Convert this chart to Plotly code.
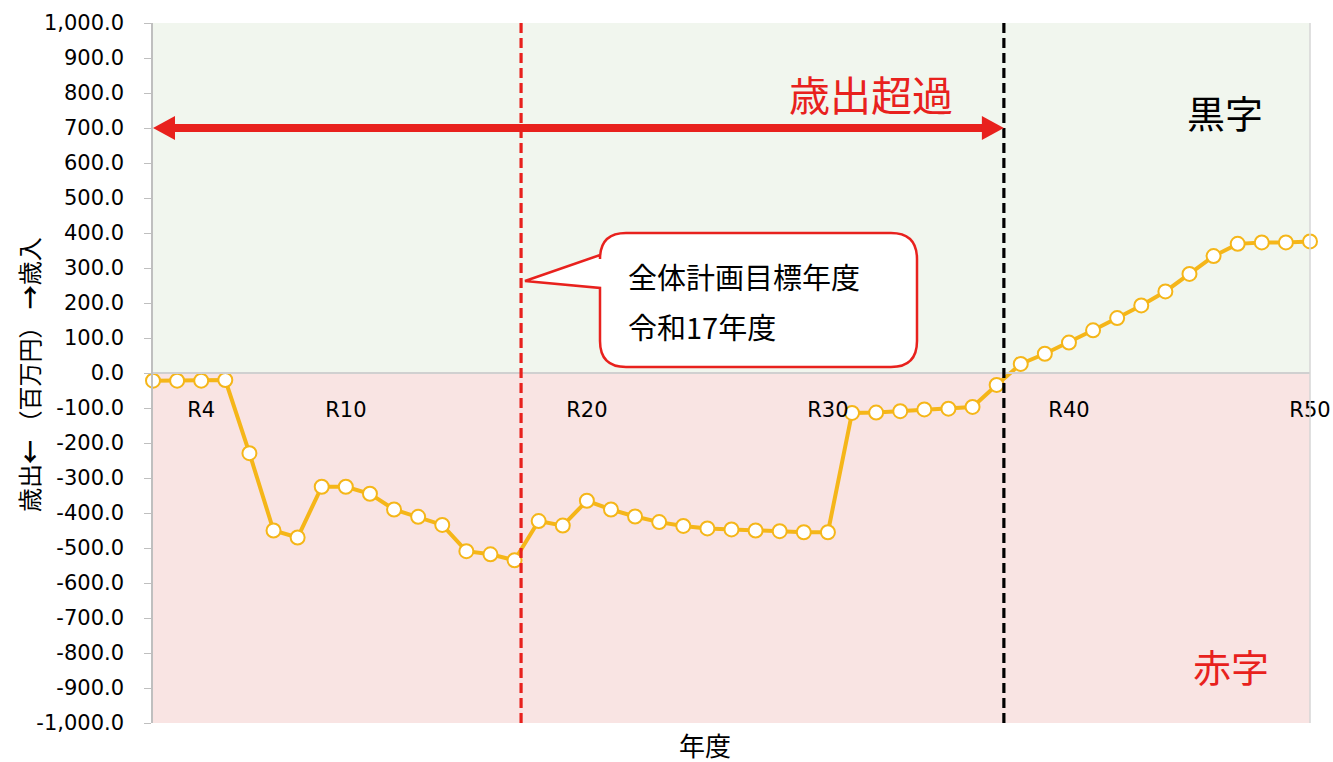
import plotly.graph_objects as go

# Fiscal years (Reiwa era) and annual balance in millions of yen
fiscal_year = list(range(2, 51))
balance = [
    -22, -22, -22, -20, -229, -450, -470, -325, -325, -345, -390, -411, -434, -509, -518, -535,
    -423, -436, -365, -390, -410, -426, -437, -444, -447, -450, -452, -455, -455,
    -114,
    -113, -109, -104, -102, -97, -34, 26, 55, 87, 122, 157, 193, 233, 283, 334, 369, 373, 373, 376,
]
tick_years = [4, 10, 20, 30, 40, 50]
tick_text = ["R4", "R10", "R20", "R30", "R40", "R50"]
y_ticks = list(range(-1000, 1001, 100))
y_tick_text = [f"{v:,.1f}" for v in y_ticks]

target_year = 17.27     # overall plan target year marker
breakeven_year = 37.3   # turn to surplus marker
arrow_level = 700

# Figure geometry
W, H = 1333, 762
ML, MR, MT, MB = 153, 23, 23, 39
PW, PH = W - ML - MR, H - MT - MB
X0, X1 = 2, 50
Y0, Y1 = -1000, 1000


def px_to_x(px):
    return X0 + (px - ML) / PW * (X1 - X0)


def py_to_y(py):
    return Y1 - (py - MT) / PH * (Y1 - Y0)


def dxp(px):
    return px / PW * (X1 - X0)


def dyp(py):
    return py / PH * (Y1 - Y0)


RED = "#E8211D"
GOLD = "#F5B619"
GRID = "#BFBFBF"
JP = "Noto Sans CJK JP"
NUM = "DejaVu Sans"

fig = go.Figure()

fig.add_trace(go.Scatter(
    x=fiscal_year, y=balance, mode="lines+markers",
    line=dict(color=GOLD, width=4),
    marker=dict(size=14, color="white", line=dict(color=GOLD, width=2)),
    cliponaxis=False, showlegend=False, hoverinfo="x+y",
))

shapes = []
# surplus / deficit backgrounds
shapes.append(dict(type="rect", xref="x", yref="y", x0=X0, x1=X1, y0=0, y1=Y1,
                   fillcolor="#F1F6EE", line=dict(width=0), layer="below"))
shapes.append(dict(type="rect", xref="x", yref="y", x0=X0, x1=X1, y0=Y0, y1=0,
                   fillcolor="#F9E4E3", line=dict(width=0), layer="below"))
# right border
shapes.append(dict(type="line", xref="paper", yref="paper", x0=1, x1=1, y0=0, y1=1,
                   line=dict(color="#D6D6D6", width=1.5)))

# vertical markers
shapes.append(dict(type="line", xref="x", yref="paper", x0=target_year, x1=target_year, y0=0, y1=1,
                   line=dict(color=RED, width=3.2, dash="10px,5px")))
shapes.append(dict(type="line", xref="x", yref="paper", x0=breakeven_year, x1=breakeven_year, y0=0, y1=1,
                   line=dict(color="black", width=3.2, dash="10px,5px")))

# double-headed arrow for the over-expenditure period
head_len, head_half = dxp(22), dyp(12)
shapes.append(dict(type="line", xref="x", yref="y", x0=X0 + head_len * 0.8, x1=breakeven_year - head_len * 0.8,
                   y0=arrow_level, y1=arrow_level, line=dict(color=RED, width=8)))
for tip, base in ((X0, X0 + head_len), (breakeven_year, breakeven_year - head_len)):
    shapes.append(dict(
        type="path", xref="x", yref="y",
        path=f"M {tip},{arrow_level} L {base},{arrow_level + head_half} L {base},{arrow_level - head_half} Z",
        fillcolor=RED, line=dict(width=0)))

# speech-bubble callout pointing at the target year line
bl, br, bt, bb = 600, 917, 233, 367
r = 26
tip_x, tip_y = 525, 281
p1, p2 = 255, 288
pts = [
    ("M", bl + r, bt), ("L", br - r, bt), ("Q", br, bt, br, bt + r), ("L", br, bb - r),
    ("Q", br, bb, br - r, bb), ("L", bl + r, bb), ("Q", bl, bb, bl, bb - r), ("L", bl, p2),
    ("L", tip_x, tip_y), ("L", bl, p1), ("L", bl, bt + r), ("Q", bl, bt, bl + r, bt),
]
segs = []
for seg in pts:
    cmd, coords = seg[0], seg[1:]
    c = []
    for i in range(0, len(coords), 2):
        c.append(f"{px_to_x(coords[i]):.4f},{py_to_y(coords[i + 1]):.4f}")
    segs.append(cmd + " " + " ".join(c))
shapes.append(dict(type="path", xref="x", yref="y", path=" ".join(segs) + " Z",
                   fillcolor="white", line=dict(color=RED, width=2.5)))


def pxp(px):
    return (px - ML) / PW


def pyp(py):
    return (MT + PH - py) / PH


annotations = [
    dict(text="歳出超過", x=pxp(871), y=pyp(93), font=dict(family=JP, size=41, color=RED)),
    dict(text="黒字", x=pxp(1225), y=pyp(112), font=dict(family=JP, size=38, color="black")),
    dict(text="赤字", x=pxp(1231), y=pyp(665), font=dict(family=JP, size=38, color=RED)),
    dict(text="年度", x=pxp(705), y=pyp(744), font=dict(family=JP, size=26, color="black")),
    dict(text="全体計画目標年度", x=pxp(626), y=pyp(276), xanchor="left",
         font=dict(family=JP, size=29, color="black")),
    dict(text="令和17年度", x=pxp(626), y=pyp(326), xanchor="left",
         font=dict(family=JP, size=29, color="black")),
    dict(text="歳出<b>←</b> （百万円） <b>→</b>歳入", x=pxp(28), y=pyp(375), textangle=-90,
         font=dict(family=JP, size=24, color="black")),
]
for a in annotations:
    a.setdefault("xanchor", "center")
    a.update(xref="paper", yref="paper", yanchor="middle", showarrow=False)

fig.update_layout(
    width=W, height=H,
    margin=dict(l=ML, r=MR, t=MT, b=MB, autoexpand=False),
    paper_bgcolor="white", plot_bgcolor="white",
    shapes=shapes, annotations=annotations,
    xaxis=dict(range=[X0, X1], anchor="free", position=0.5, showline=True, linecolor="#D0D0D0",
               linewidth=1.5, showgrid=False, zeroline=False, ticks="",
               tickvals=tick_years, ticktext=tick_text, ticklabelstandoff=18,
               tickfont=dict(family=NUM, size=21, color="black")),
    yaxis=dict(range=[Y0, Y1], tickvals=y_ticks, ticktext=y_tick_text, showgrid=False, zeroline=False,
               showline=True, linecolor=GRID, linewidth=1.5, ticks="outside", ticklen=7,
               tickcolor=GRID, ticklabelstandoff=16,
               tickfont=dict(family=NUM, size=21, color="black")),
)

fig.write_html("out.html")
